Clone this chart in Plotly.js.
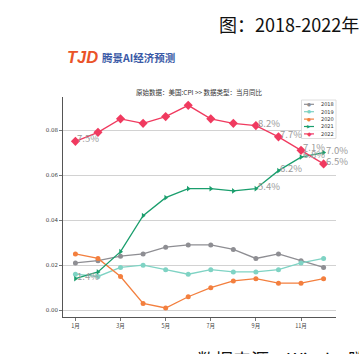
<!DOCTYPE html>
<html>
<head>
<meta charset="utf-8">
<script src="https://cdn.plot.ly/plotly-3.0.1.min.js"></script>
<style>
  html, body { margin: 0; padding: 0; background: #ffffff; overflow: hidden; }
  #chart { width: 359px; height: 354px; overflow: hidden; }
</style>
</head>
<body>
<div id="chart"></div>
<script>
// ---- Data (US CPI, year-on-year, monthly) ----
const months = [1, 2, 3, 4, 5, 6, 7, 8, 9, 10, 11, 12];
const monthTickVals = [1, 3, 5, 7, 9, 11];
const monthTickText = ['1月', '3月', '5月', '7月', '9月', '11月'];
const yTickVals = [0.00, 0.02, 0.04, 0.06, 0.08];

const cpi2018 = [0.021, 0.022, 0.024, 0.025, 0.028, 0.029, 0.029, 0.027, 0.023, 0.025, 0.022, 0.019];
const cpi2019 = [0.016, 0.015, 0.019, 0.020, 0.018, 0.016, 0.018, 0.017, 0.017, 0.018, 0.021, 0.023];
const cpi2020 = [0.025, 0.023, 0.015, 0.003, 0.001, 0.006, 0.010, 0.013, 0.014, 0.012, 0.012, 0.014];
const cpi2021 = [0.014, 0.017, 0.026, 0.042, 0.050, 0.054, 0.054, 0.053, 0.054, 0.062, 0.068, 0.070];
const cpi2022 = [0.075, 0.079, 0.085, 0.083, 0.086, 0.091, 0.085, 0.083, 0.082, 0.077, 0.071, 0.065];

const seriesNames = ['2018', '2019', '2020', '2021', '2022'];
const labelMonths2021 = [1, 9, 10, 11, 12];
const labelMonths2022 = [1, 9, 10, 11, 12];

// ---- Styles ----
const colors = ['#8e8e93', '#7fd3c4', '#f37f3e', '#1a9e6d', '#f03a5f'];
const symbols = ['circle', 'circle', 'circle', 'triangle-right', 'diamond'];
const symbolGlyphs = ['●', '●', '●', '▶', '◆'];
const markerSizes = [5, 5, 5, 5, 7];
const seriesValues = [cpi2018, cpi2019, cpi2020, cpi2021, cpi2022];
const seriesLabelMonths = [[], [], [], labelMonths2021, labelMonths2022];

function pct(v) { return (v * 100).toFixed(1) + '%'; }

const traces = seriesValues.map((vals, i) => ({
  type: 'scatter',
  x: months,
  y: vals,
  name: seriesNames[i],
  mode: 'lines+markers',
  line: { color: colors[i], width: 1.3 },
  marker: { color: colors[i], symbol: symbols[i], size: markerSizes[i] },
  cliponaxis: false,
  hoverinfo: 'x+y'
}));

// ---- Layout helpers (pixel -> paper) ----
const W = 359, H = 354;
const M = { l: 63, r: 23, t: 97, b: 37 };
const PW = W - M.l - M.r, PH = H - M.t - M.b;
const px = x => (x - M.l) / PW;
const py = y => (H - M.b - y) / PH;

const annotations = [
  { text: '图：2018-2022年', x: px(217), y: py(24), xanchor: 'left', yanchor: 'middle',
    font: { family: 'Noto Sans CJK SC, sans-serif', size: 18, color: '#111111' } },
  { text: '数据来源：Wind，腾景', x: px(195), y: py(344), xanchor: 'left', yanchor: 'top',
    font: { family: 'Noto Sans CJK SC, sans-serif', size: 18, color: '#111111' } },
  { text: 'TJD', x: px(65), y: py(57), xanchor: 'left', yanchor: 'middle',
    font: { family: 'Liberation Sans, Arial, sans-serif', size: 16.5, color: '#ea5329', weight: 'bold', style: 'italic' } },
  { text: '腾景AI经济预测', x: px(100), y: py(57.5), xanchor: 'left', yanchor: 'middle',
    font: { family: 'Noto Sans CJK SC, sans-serif', size: 10.5, color: '#3a59a6', weight: 'bold' } },
  { text: '原始数据：美国:CPI >> 数据类型：当月同比', x: 0.5, y: py(92), xanchor: 'center', yanchor: 'middle',
    font: { family: 'Noto Sans CJK SC, sans-serif', size: 6.5, color: '#333333' } }
].map(a => Object.assign(a, { xref: 'paper', yref: 'paper' }));

// data value labels, drawn at the data points through the axes
seriesValues.forEach((vals, i) => {
  seriesLabelMonths[i].forEach(m => {
    const k = months.indexOf(m);
    annotations.push({
      text: pct(vals[k]), x: m, y: vals[k], xref: 'x', yref: 'y',
      xanchor: 'left', yanchor: 'middle', xshift: 0, yshift: 3,
      font: { family: 'Noto Sans CJK SC, DejaVu Sans, sans-serif', size: 9.5, color: '#9b9b9b' }
    });
  });
});

const shapes = [
  { type: 'rect', xref: 'paper', yref: 'paper', x0: px(301.5), x1: px(336), y0: py(100), y1: py(138.5),
    line: { color: '#d6d6d6', width: 0.8 }, fillcolor: 'rgba(255,255,255,0.85)', layer: 'above' }
];

const legendYs = [104.3, 111.7, 119.1, 126.5, 133.9];
seriesNames.forEach((nm, i) => {
  const yy = legendYs[i];
  shapes.push({ type: 'line', xref: 'paper', yref: 'paper', x0: px(304), x1: px(314), y0: py(yy), y1: py(yy),
    line: { color: colors[i], width: 1.2 }, layer: 'above' });
  annotations.push({ text: symbolGlyphs[i], x: px(309), y: py(yy), xref: 'paper', yref: 'paper',
    xanchor: 'center', yanchor: 'middle',
    font: { family: 'DejaVu Sans, sans-serif', size: i === 4 ? 6 : 4.5, color: colors[i] } });
  annotations.push({ text: nm, x: px(318.5), y: py(yy), xref: 'paper', yref: 'paper',
    xanchor: 'left', yanchor: 'middle',
    font: { family: 'DejaVu Sans, sans-serif', size: 5, color: '#333333' } });
});
annotations.forEach(a => { a.showarrow = false; });

const layout = {
  width: W, height: H,
  margin: M,
  paper_bgcolor: '#ffffff',
  plot_bgcolor: '#ffffff',
  showlegend: false,
  font: { family: 'DejaVu Sans, sans-serif', size: 5, color: '#444444' },
  xaxis: {
    range: [0.45, 12.55],
    tickvals: monthTickVals, ticktext: monthTickText,
    showgrid: false, zeroline: false,
    showline: true, linecolor: '#555555', linewidth: 1,
    ticks: 'outside', ticklen: 3, tickwidth: 0.8, tickcolor: '#555555',
    tickfont: { family: 'Noto Sans CJK SC, sans-serif', size: 5.5, color: '#444444' }
  },
  yaxis: {
    range: [-0.003, 0.0947],
    tickvals: yTickVals, tickformat: '.2f',
    showgrid: true, gridcolor: '#d2d2d2', gridwidth: 1,
    zeroline: false,
    showline: true, linecolor: '#555555', linewidth: 1,
    ticks: 'outside', ticklen: 3, tickwidth: 0.8, tickcolor: '#555555',
    tickfont: { family: 'DejaVu Sans, sans-serif', size: 5.5, color: '#444444' }
  },
  annotations: annotations,
  shapes: shapes
};

Plotly.newPlot('chart', traces, layout, { staticPlot: true, displayModeBar: false });
</script>
</body>
</html>
